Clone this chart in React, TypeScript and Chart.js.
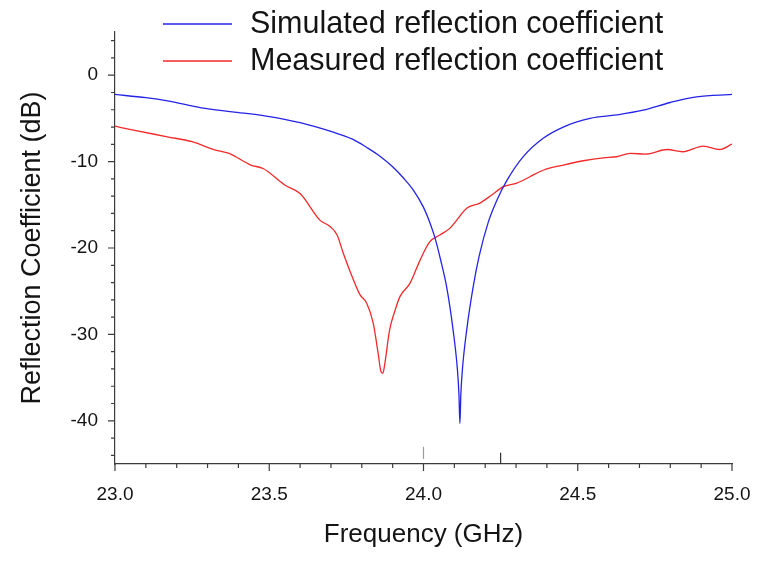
import React, { useEffect, useRef } from "react";
import { Chart, registerables } from "chart.js";

Chart.register(...registerables);

// ---- data ----
const simFreq = [
  23.0, 23.1, 23.17, 23.28, 23.38, 23.49, 23.6, 23.71, 23.77, 23.816, 23.86, 23.9, 23.935, 23.967,
  24.0, 24.021, 24.037, 24.055, 24.075, 24.096, 24.11, 24.115, 24.118, 24.121, 24.126, 24.14,
  24.161, 24.18, 24.21, 24.24, 24.27, 24.324, 24.388, 24.453, 24.54, 24.626, 24.712, 24.8, 24.885, 25.0,
];
const simDb = [
  -2.23, -2.6, -2.97, -3.78, -4.24, -4.74, -5.5, -6.63, -7.4, -8.36, -9.4, -10.6, -11.9, -13.3,
  -15.3, -17.1, -18.8, -21.3, -24.5, -29.5, -34.1, -37.0, -40.3, -37.0, -34.1, -29.5,
  -24.5, -21.0, -17.0, -14.3, -12.2, -9.4, -7.3, -6.0, -5.0, -4.6, -4.05, -3.16, -2.5, -2.23,
];

const measFreq = [
  23.0, 23.06, 23.17, 23.25, 23.32, 23.37, 23.44, 23.48, 23.55, 23.6, 23.665, 23.697, 23.72, 23.74,
  23.773, 23.794, 23.816, 23.837, 23.853, 23.862, 23.868, 23.875, 23.89, 23.908, 23.924, 23.956,
  23.989, 24.02, 24.053, 24.086, 24.107, 24.14, 24.183, 24.22, 24.259, 24.302, 24.345, 24.388,
  24.453, 24.518, 24.583, 24.626, 24.67, 24.72, 24.79, 24.84, 24.907, 24.96, 25.0,
];
const measDb = [
  -5.9, -6.36, -7.13, -7.7, -8.6, -9.05, -10.4, -10.8, -12.7, -13.7, -16.8, -17.5, -18.5, -20.6,
  -23.7, -25.4, -26.4, -28.7, -32.2, -34.3, -34.5, -33.3, -29.5, -27.2, -25.6, -24.1,
  -21.4, -19.3, -18.5, -17.7, -16.8, -15.4, -14.8, -13.9, -12.9, -12.5, -11.75, -11.0,
  -10.4, -9.9, -9.56, -9.44, -9.05, -9.13, -8.6, -8.86, -8.2, -8.6, -7.98,
];

const seriesLabels = ["Simulated reflection coefficient", "Measured reflection coefficient"];
const seriesColors = ["#2424e8", "#f22a2a"];

const xMajorTicks = [23.0, 23.5, 24.0, 24.5, 25.0];
const xMinorTicks = [23.1, 23.2, 23.3, 23.4, 23.6, 23.7, 23.8, 23.9, 24.1, 24.2, 24.3, 24.4, 24.6, 24.7, 24.8, 24.9];
const yMajorTicks = [-40, -30, -20, -10, 0];
const yMinorTicks = [-44, -42, -38, -36, -34, -32, -28, -26, -24, -22, -18, -16, -14, -12, -8, -6, -4, -2, 2, 4];

const markerFreq = [24.0, 24.25];
const markerTop = [-43.0, -43.7];
const markerBottom = [-44.4, -45.0];
const markerColors = ["#9a9a9a", "#333333"];

const FONT = "'Liberation Sans', Arial, Helvetica, sans-serif";
const AXIS_COLOR = "#3c3c3c";
const TEXT_COLOR = "#141414";

const decorPlugin = {
  id: "decor",
  afterDraw(chart: any) {
    const { ctx, chartArea } = chart;
    const xs = chart.scales.x;
    const ys = chart.scales.y;
    const left = chartArea.left;
    const bottom = chartArea.bottom;
    ctx.save();
    ctx.strokeStyle = AXIS_COLOR;
    ctx.lineWidth = 1.2;
    ctx.beginPath();
    yMajorTicks.forEach((v) => {
      const p = ys.getPixelForValue(v);
      ctx.moveTo(left - 7, p);
      ctx.lineTo(left, p);
    });
    yMinorTicks.forEach((v) => {
      const p = ys.getPixelForValue(v);
      ctx.moveTo(left - 4, p);
      ctx.lineTo(left, p);
    });
    xMajorTicks.forEach((v) => {
      const p = xs.getPixelForValue(v);
      ctx.moveTo(p, bottom);
      ctx.lineTo(p, bottom + 7);
    });
    xMinorTicks.forEach((v) => {
      const p = xs.getPixelForValue(v);
      ctx.moveTo(p, bottom);
      ctx.lineTo(p, bottom + 4);
    });
    ctx.stroke();

    markerFreq.forEach((f, i) => {
      const p = xs.getPixelForValue(f);
      ctx.beginPath();
      ctx.strokeStyle = markerColors[i];
      ctx.lineWidth = 1.2;
      ctx.moveTo(p, ys.getPixelForValue(markerTop[i]));
      ctx.lineTo(p, ys.getPixelForValue(markerBottom[i]));
      ctx.stroke();
    });

    // legend
    const legendY = [24, 61];
    ctx.font = `30.5px ${FONT}`;
    ctx.textBaseline = "middle";
    ctx.textAlign = "left";
    seriesLabels.forEach((label, i) => {
      ctx.beginPath();
      ctx.strokeStyle = seriesColors[i];
      ctx.lineWidth = 1.3;
      ctx.moveTo(163, legendY[i]);
      ctx.lineTo(232, legendY[i]);
      ctx.stroke();
      ctx.fillStyle = TEXT_COLOR;
      ctx.fillText(label, 250, legendY[i] + 1);
    });
    ctx.restore();
  },
};

export default function App() {
  const canvasRef = useRef<HTMLCanvasElement | null>(null);

  useEffect(() => {
    const canvas = canvasRef.current;
    if (!canvas) return;
    const chart = new Chart(canvas, {
      type: "line",
      data: {
        datasets: [
          {
            label: seriesLabels[0],
            data: simFreq.map((f, i) => ({ x: f, y: simDb[i] })),
            borderColor: seriesColors[0],
            backgroundColor: seriesColors[0],
            borderWidth: 1.3,
            pointRadius: 0,
            cubicInterpolationMode: "monotone",
          },
          {
            label: seriesLabels[1],
            data: measFreq.map((f, i) => ({ x: f, y: measDb[i] })),
            borderColor: seriesColors[1],
            backgroundColor: seriesColors[1],
            borderWidth: 1.3,
            pointRadius: 0,
            cubicInterpolationMode: "monotone",
          },
        ],
      },
      options: {
        responsive: false,
        animation: false,
        devicePixelRatio: 1,
        layout: { padding: { top: 32, right: 32, left: 0, bottom: 0 } },
        plugins: {
          legend: { display: false },
          tooltip: { enabled: false },
        },
        scales: {
          x: {
            type: "linear",
            min: 23,
            max: 25,
            afterBuildTicks: (s: any) => {
              s.ticks = xMajorTicks.map((v) => ({ value: v }));
            },
            afterFit: (s: any) => {
              s.height = 98;
              s.paddingLeft = 0;
              s.paddingRight = 0;
            },
            grid: { display: false, drawTicks: false },
            border: { display: true, color: AXIS_COLOR, width: 1.2 },
            ticks: {
              autoSkip: false,
              maxRotation: 0,
              padding: 19,
              color: TEXT_COLOR,
              font: { size: 19, family: FONT },
              callback: (v: any) => Number(v).toFixed(1),
            },
            title: {
              display: true,
              text: "Frequency (GHz)",
              color: TEXT_COLOR,
              font: { size: 26, family: FONT },
              padding: { top: 0, bottom: 12 },
            },
          },
          y: {
            type: "linear",
            min: -45,
            max: 5,
            afterBuildTicks: (s: any) => {
              s.ticks = yMajorTicks.map((v) => ({ value: v }));
            },
            afterFit: (s: any) => {
              s.width = 115;
              s.paddingTop = 0;
              s.paddingBottom = 0;
            },
            grid: { display: false, drawTicks: false },
            border: { display: true, color: AXIS_COLOR, width: 1.2 },
            ticks: {
              autoSkip: false,
              padding: 17,
              color: TEXT_COLOR,
              font: { size: 19, family: FONT },
              callback: (v: any) => String(v),
            },
            title: {
              display: true,
              text: "Reflection Coefficient (dB)",
              color: TEXT_COLOR,
              font: { size: 27, family: FONT },
              padding: { top: 16, bottom: 0 },
            },
          },
        },
      },
      plugins: [decorPlugin],
    });
    return () => chart.destroy();
  }, []);

  return (
    <div style={{ position: "absolute", left: 0, top: 0, width: 764, height: 562, background: "#ffffff" }}>
      <canvas ref={canvasRef} width={764} height={562} style={{ display: "block" }} />
    </div>
  );
}
